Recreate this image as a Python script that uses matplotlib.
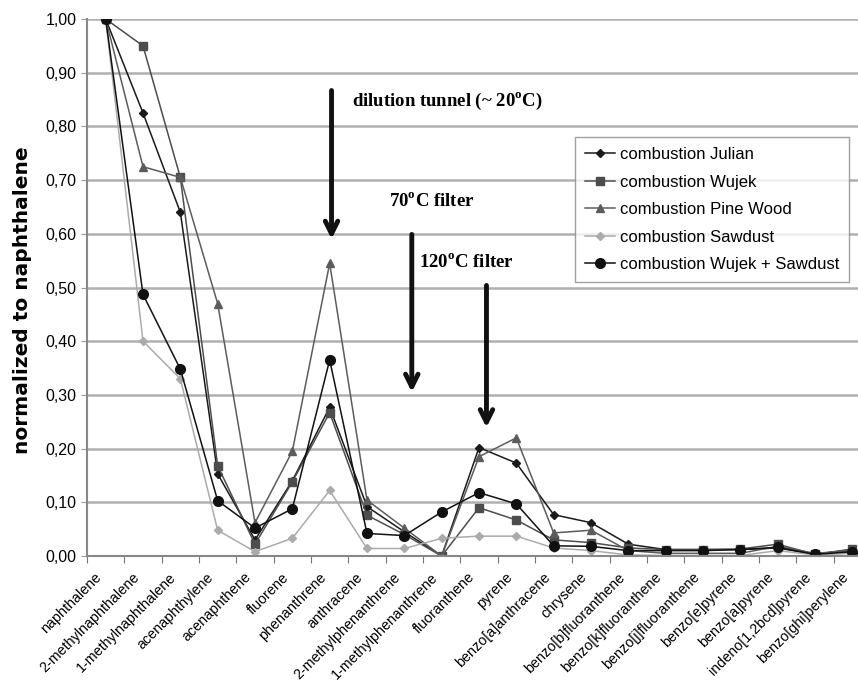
import matplotlib.pyplot as plt
from matplotlib.ticker import FixedLocator, FuncFormatter, NullFormatter
from matplotlib.transforms import ScaledTranslation

plt.rcParams['font.family'] = ['Liberation Sans', 'DejaVu Sans']

compuestos = ['naphthalene', '2-methylnaphthalene', '1-methylnaphthalene',
              'acenaphthylene', 'acenaphthene', 'fluorene', 'phenanthrene',
              'anthracene', '2-methylphenanthrene', '1-methylphenanthrene',
              'fluoranthene', 'pyrene', 'benzo[a]anthracene', 'chrysene',
              'benzo[b]fluoranthene', 'benzo[k]fluoranthene',
              'benzo[j]fluoranthene', 'benzo[e]pyrene', 'benzo[a]pyrene',
              'indeno[1,2bcd]pyrene', 'benzo[ghi]perylene']

julian = [1.00, 0.825, 0.64, 0.153, 0.030, 0.140, 0.277, 0.092, 0.045, 0.000,
          0.202, 0.173, 0.077, 0.062, 0.022, 0.012, 0.012, 0.012, 0.015, 0.003, 0.012]
wujek = [1.00, 0.950, 0.705, 0.168, 0.022, 0.138, 0.267, 0.076, 0.040, 0.000,
         0.090, 0.067, 0.030, 0.025, 0.015, 0.012, 0.012, 0.013, 0.022, 0.003, 0.013]
pino = [1.00, 0.725, 0.705, 0.470, 0.062, 0.195, 0.545, 0.104, 0.052, 0.000,
        0.185, 0.220, 0.043, 0.048, 0.010, 0.005, 0.005, 0.005, 0.018, 0.005, 0.010]
aserrin = [1.00, 0.400, 0.330, 0.048, 0.008, 0.033, 0.122, 0.014, 0.014, 0.033,
           0.037, 0.037, 0.015, 0.010, 0.002, 0.001, 0.001, 0.001, 0.010, 0.002, 0.005]
wujek_aserrin = [1.00, 0.487, 0.348, 0.103, 0.052, 0.088, 0.365, 0.042, 0.038, 0.082,
                 0.118, 0.097, 0.019, 0.018, 0.010, 0.010, 0.010, 0.012, 0.016, 0.003, 0.008]

series = [
    (julian, 'combustion Julian', '#1a1a1a', 'D', 4),
    (wujek, 'combustion Wujek', '#4d4d4d', 's', 6),
    (pino, 'combustion Pine Wood', '#5c5c5c', '^', 6),
    (aserrin, 'combustion Sawdust', '#ababab', 'D', 4),
    (wujek_aserrin, 'combustion Wujek + Sawdust', '#111111', 'o', 7),
]

fig = plt.figure(figsize=(8.58, 6.88), dpi=100)
ax = fig.add_axes([87 / 858, 1 - 556 / 688, 784 / 858, 537 / 688])

x = list(range(len(compuestos)))
for valores, label, color, marker, ms in series:
    ax.plot(x, valores, color=color, marker=marker, markersize=ms, lw=1.1,
            label=label)

ax.set_xlim(-0.5, len(compuestos) - 0.5)
ax.set_ylim(0, 1.0)
ax.yaxis.set_major_locator(FixedLocator([i / 10 for i in range(11)]))
ax.yaxis.set_major_formatter(FuncFormatter(lambda v, p: f'{v:.2f}'.replace('.', ',')))
ax.grid(axis='y', color='#b0b0b0', lw=1.8)
ax.set_axisbelow(True)

# ticks entre categorias, etiquetas escritas a mano algo a la izquierda del centro
ax.xaxis.set_major_locator(FixedLocator([i - 0.5 for i in range(len(compuestos) + 1)]))
ax.xaxis.set_major_formatter(NullFormatter())
ax.tick_params(axis='x', length=5, color='#777777')
corrimiento = ScaledTranslation(-0.11, -0.14, fig.dpi_scale_trans)
for i, nombre in zip(x, compuestos):
    ax.text(i, 0, nombre, rotation=45, ha='right', va='top',
            rotation_mode='anchor', fontsize=10.3,
            transform=ax.get_xaxis_transform() + corrimiento)
ax.tick_params(axis='y', length=4, color='#999999', labelsize=11.5)

for lado in ['top', 'right']:
    ax.spines[lado].set_visible(False)
ax.spines['left'].set_color('#888888')
ax.spines['bottom'].set_color('#888888')
ax.spines['left'].set_linewidth(1.5)
ax.spines['bottom'].set_linewidth(1.5)

ax.set_ylabel('normalized to naphthalene', fontsize=14.5, fontweight='bold',
              family=['DejaVu Sans'])
ax.yaxis.set_label_coords(-0.070, 0.477)

leg = ax.legend(loc='upper left', bbox_to_anchor=(0.622, 0.780), fontsize=12,
                frameon=True, fancybox=False, edgecolor='#888888',
                handlelength=1.8, labelspacing=0.75, borderpad=0.6,
                handletextpad=0.3, borderaxespad=0)
leg.get_frame().set_linewidth(1.0)

flecha = dict(arrowstyle='->,head_length=0.9,head_width=0.45', lw=3.5, color='#111111')
serif = dict(family=['Liberation Serif', 'DejaVu Serif'], fontweight='bold', fontsize=13.5)
ax.annotate('', xy=(6.05, 0.585), xytext=(6.05, 0.872), arrowprops=flecha)
ax.text(6.6, 0.847, 'dilution tunnel (~ 20$^{\\mathregular{o}}$C)', va='center', **serif)
ax.annotate('', xy=(8.2, 0.30), xytext=(8.2, 0.604), arrowprops=flecha)
ax.text(7.6, 0.662, '70$^{\\mathregular{o}}$C filter', va='center', **serif)
ax.annotate('', xy=(10.2, 0.234), xytext=(10.2, 0.509), arrowprops=flecha)
ax.text(8.38, 0.548, '120$^{\\mathregular{o}}$C filter', va='center', **serif)

fig.savefig('out.png', dpi=100)
